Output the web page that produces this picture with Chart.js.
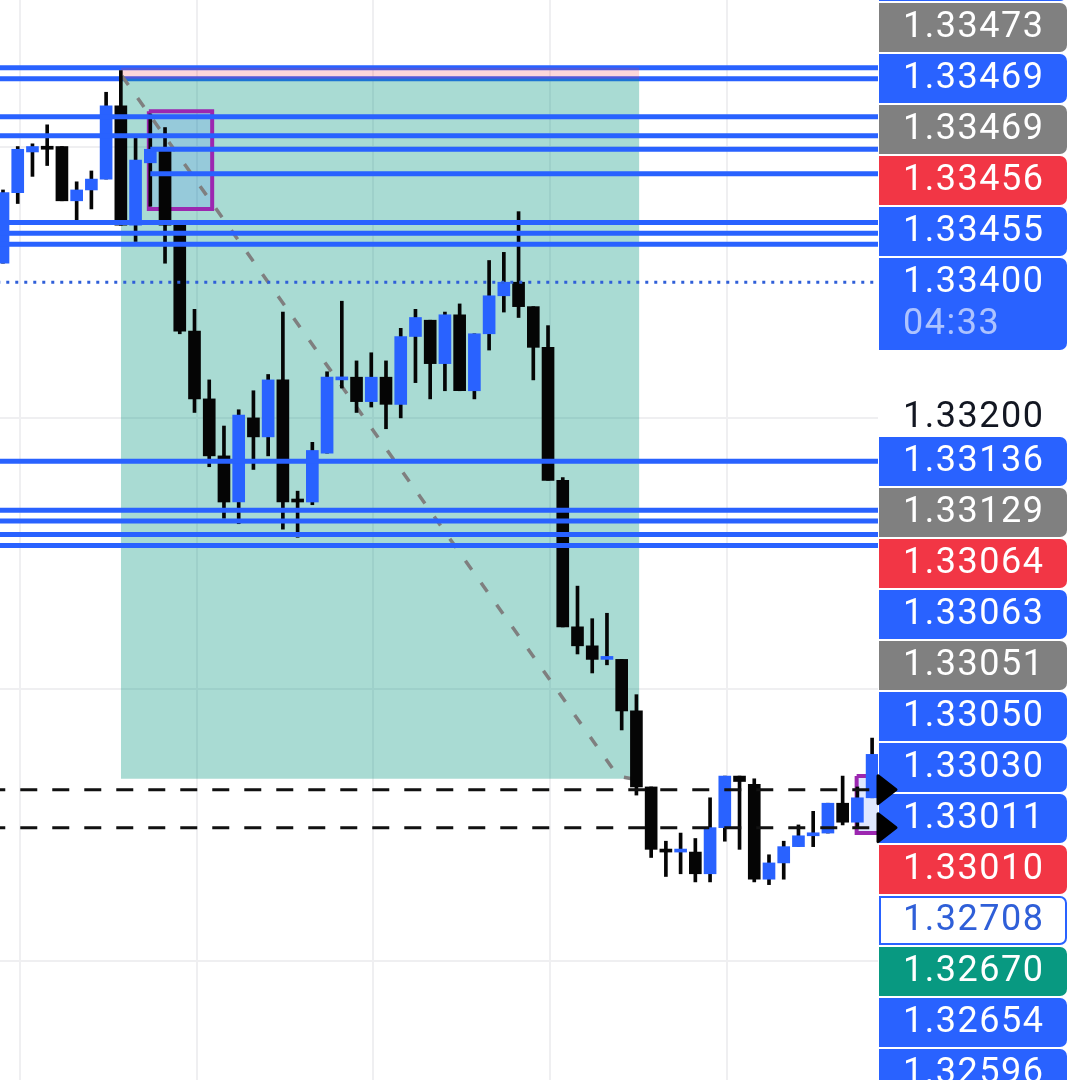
<!DOCTYPE html>
<html>
<head>
<meta charset="utf-8">
<script src="https://cdn.jsdelivr.net/npm/chart.js@4.4.0/dist/chart.umd.min.js"></script>
<style>
  html, body { margin: 0; padding: 0; background: #fff; }
  #wrap { width: 1080px; height: 1080px; position: relative; }
</style>
</head>
<body>
<div id="wrap"><canvas id="gbp"></canvas></div>
<script>
// one value per bar, left to right
const opens  = [1.33257,1.33283,1.33298,1.33300,1.33300,1.33280,1.33284,1.33288,1.33315,1.33271,
                1.33294,1.33299,1.33271,1.33232,1.33207,1.33186,1.33169,1.33200,1.33193,1.33214,
                1.33170,1.33169,1.33187,1.33214,1.33215,1.33206,1.33215,1.33205,1.33230,1.33236,
                1.33220,1.33238,1.33210,1.33231,1.33245,1.33250,1.33241,1.33226,1.33177,1.33123,
                1.33116,1.33111,1.33111,1.33092,1.33064,1.33041,1.33040,1.33040,1.33032,1.33049,
                1.33068,1.33065,1.33030,1.33036,1.33042,1.33046,1.33047,1.33058,1.33051,1.33060];
const highs  = [1.33284,1.33300,1.33301,1.33308,1.33300,1.33287,1.33291,1.33320,1.33328,1.33304,
                1.33312,1.33307,1.33271,1.33240,1.33214,1.33197,1.33203,1.33210,1.33216,1.33239,
                1.33173,1.33191,1.33217,1.33243,1.33221,1.33224,1.33221,1.33233,1.33240,1.33236,
                1.33239,1.33242,1.33231,1.33258,1.33261,1.33276,1.33241,1.33234,1.33178,1.33138,
                1.33126,1.33128,1.33111,1.33098,1.33064,1.33044,1.33047,1.33045,1.33060,1.33068,
                1.33068,1.33067,1.33039,1.33044,1.33050,1.33055,1.33058,1.33068,1.33064,1.33082];
const lows   = [1.33257,1.33279,1.33289,1.33293,1.33280,1.33273,1.33277,1.33288,1.33271,1.33265,
                1.33278,1.33257,1.33231,1.33202,1.33182,1.33163,1.33161,1.33181,1.33186,1.33159,
                1.33156,1.33168,1.33187,1.33211,1.33202,1.33204,1.33196,1.33200,1.33213,1.33207,
                1.33210,1.33210,1.33207,1.33225,1.33239,1.33237,1.33214,1.33177,1.33123,1.33113,
                1.33106,1.33109,1.33085,1.33061,1.33038,1.33031,1.33032,1.33029,1.33029,1.33044,
                1.33041,1.33029,1.33028,1.33030,1.33042,1.33042,1.33047,1.33050,1.33049,1.33060];
const closes = [1.33283,1.33299,1.33300,1.33299,1.33280,1.33284,1.33288,1.33315,1.33271,1.33295,
                1.33299,1.33271,1.33232,1.33207,1.33186,1.33169,1.33201,1.33193,1.33214,1.33169,
                1.33169,1.33188,1.33215,1.33215,1.33206,1.33215,1.33205,1.33230,1.33237,1.33220,
                1.33238,1.33210,1.33231,1.33245,1.33250,1.33241,1.33226,1.33177,1.33123,1.33116,
                1.33111,1.33112,1.33092,1.33064,1.33041,1.33040,1.33041,1.33032,1.33049,1.33068,
                1.33066,1.33030,1.33036,1.33042,1.33046,1.33047,1.33058,1.33051,1.33060,1.33076];

// horizontal levels drawn on the chart
const levels      = [1.33311, 1.33304, 1.33272, 1.33268, 1.33264, 1.33184, 1.33166, 1.33162, 1.33157, 1.33153];
const topLevels   = [1.33329, 1.33325];      // sit under the position box
const lateLevels  = [1.33299, 1.33290];      // start at bar 10
const lateStart   = 10;
const priceLine   = 1.33250;                 // dotted
const alertLevels = [1.33063, 1.33049];      // black dashed + arrows

// short position tool: bars 8 -> 43.2, stop / entry / target
const posBars   = [8.0, 43.2];
const posStop   = 1.33329;
const posEntry  = 1.33325;
const posTarget = 1.33067;
const trendBars   = [8.08, 41.75, 42.7];
const trendPrices = [1.33326, 1.33068, 1.33067];

// purple boxes: [fromBar, toBar, top, bottom]
const boxes = [[9.9, 14.2, 1.33313, 1.33277], [57.95, 61, 1.33068, 1.33047]];

// axis
const gridPrices = [1.333, 1.332, 1.331, 1.330];
const axisLabel  = 1.332;
const gridBars   = [1.15, 13.15, 25.15, 37.15, 49.15];

// price tags on the right, top to bottom
const tagTexts = ['', '1.33473', '1.33469', '1.33469', '1.33456', '1.33455', '1.33400',
                  '1.33136', '1.33129', '1.33064', '1.33063', '1.33051', '1.33050', '1.33030',
                  '1.33011', '1.33010', '1.32708', '1.32670', '1.32654', '1.32596'];
const tagKinds = ['blue', 'gray', 'blue', 'gray', 'red', 'blue', 'blue',
                  'blue', 'gray', 'red', 'blue', 'gray', 'blue', 'blue',
                  'blue', 'red', 'outline', 'green', 'blue', 'blue'];
const countdown = '04:33';

const BLUE = '#2962FF';
const BLACK = '#050505';
const tagColors = { blue: BLUE, gray: '#808080', red: '#F23645', green: '#089981', outline: '#ffffff' };

const bars = opens.map((_, i) => i);
const candleColor = c => (c.dataIndex === undefined || closes[c.dataIndex] >= opens[c.dataIndex]) ? BLUE : BLACK;

const hline = (y, order, from = -1, to = 61, extra = {}) => Object.assign({
  type: 'line',
  data: [{ x: from, y }, { x: to, y }],
  borderColor: BLUE, borderWidth: 5, pointRadius: 0, fill: false, order
}, extra);

const datasets = [];

// position box
datasets.push({
  type: 'line', data: [{ x: posBars[0], y: posEntry }, { x: posBars[1], y: posEntry }],
  borderWidth: 0, pointRadius: 0, fill: { value: posTarget },
  backgroundColor: 'rgba(8,153,129,0.35)', order: 20
});
datasets.push({
  type: 'line', data: [{ x: posBars[0], y: posStop }, { x: posBars[1], y: posStop }],
  borderWidth: 0, pointRadius: 0, fill: { value: posEntry },
  backgroundColor: 'rgba(242,54,69,0.2)', order: 20
});
topLevels.forEach(v => datasets.push(hline(v, 21)));

// purple boxes
boxes.forEach(b => {
  datasets.push({
    type: 'line', data: [{ x: b[0], y: b[2] }, { x: b[1], y: b[2] }],
    borderWidth: 0, pointRadius: 0, fill: { value: b[3] },
    backgroundColor: 'rgba(41,98,255,0.15)', order: 16
  });
  datasets.push({
    type: 'line',
    data: [{ x: b[0], y: b[2] }, { x: b[1], y: b[2] }, { x: b[1], y: b[3] }, { x: b[0], y: b[3] }, { x: b[0], y: b[2] }],
    borderColor: '#9C27B0', borderWidth: 4, pointRadius: 0, fill: false, order: 15
  });
});

// dashed path of the trade
datasets.push({
  type: 'line', data: trendBars.map((x, i) => ({ x, y: trendPrices[i] })),
  borderColor: '#7f7f7f', borderWidth: 3.5, borderDash: [11, 16], pointRadius: 0, fill: false, order: 14
});

// candles: black wicks, blue/black bodies
datasets.push({
  type: 'bar', data: bars.map(i => ({ x: i, y: [lows[i], highs[i]] })),
  backgroundColor: BLACK, barThickness: 3, grouped: false, order: 12
});
datasets.push({
  type: 'bar', data: bars.map(i => ({ x: i, y: [opens[i], closes[i]] })),
  backgroundColor: candleColor, barThickness: 12, minBarLength: 3, grouped: false, order: 11
});

// levels on top
levels.forEach(v => datasets.push(hline(v, 5)));
lateLevels.forEach(v => datasets.push(hline(v, 5, lateStart)));
datasets.push(hline(priceLine, 4, -1, 61, { borderColor: '#2F5FD8', borderWidth: 3, borderDash: [3, 6] }));
alertLevels.forEach(v => datasets.push(hline(v, 3, -1, 61, { borderColor: '#111', borderWidth: 3, borderDash: [17, 15] })));

const spacing = {
  id: 'spacing',
  beforeDraw(chart) { chart.ctx.letterSpacing = '1.5px'; }
};

const priceTags = {
  id: 'priceTags',
  afterDraw(chart) {
    const ctx = chart.ctx;
    const left = chart.chartArea.right + 1;
    const w = 188, h = 49, step = 51;
    ctx.save();
    ctx.letterSpacing = '1.5px';
    ctx.font = '36px Roboto';
    ctx.textBaseline = 'middle';
    ctx.textAlign = 'left';
    tagTexts.forEach((t, i) => {
      const top = i < 7 ? -48 + step * i : 437 + step * (i - 7);
      const tall = i === 6;
      const hh = tall ? 92 : h;
      const kind = tagKinds[i];
      ctx.beginPath();
      ctx.roundRect(left, top, w, hh, [0, 7, 7, 0]);
      ctx.fillStyle = tagColors[kind];
      ctx.fill();
      if (kind === 'outline') {
        ctx.beginPath();
        ctx.roundRect(left + 1, top + 1, w - 2, hh - 2, [0, 6, 6, 0]);
        ctx.strokeStyle = BLUE;
        ctx.lineWidth = 2;
        ctx.stroke();
      }
      ctx.fillStyle = kind === 'outline' ? '#2F5FD8' : '#ffffff';
      ctx.fillText(t, left + 24, top + 25);
      if (tall) {
        ctx.fillStyle = 'rgba(255,255,255,0.62)';
        ctx.fillText(countdown, left + 24, top + 67);
      }
    });
    // arrows for the alert lines
    ctx.fillStyle = '#000';
    ctx.strokeStyle = '#000';
    ctx.lineJoin = 'round';
    ctx.lineWidth = 3;
    alertLevels.forEach(v => {
      const y = chart.scales.y.getPixelForValue(v);
      ctx.beginPath();
      ctx.moveTo(left - 1, y - 14);
      ctx.lineTo(left + 17, y);
      ctx.lineTo(left - 1, y + 14);
      ctx.closePath();
      ctx.fill();
      ctx.stroke();
    });
    ctx.restore();
  }
};

Chart.defaults.font.family = 'Roboto';

new Chart(document.getElementById('gbp'), {
  type: 'bar',
  data: { datasets },
  options: {
    responsive: true,
    maintainAspectRatio: false,
    animation: false,
    layout: { padding: 0 },
    plugins: { legend: { display: false }, tooltip: { enabled: false } },
    scales: {
      x: {
        type: 'linear',
        min: -0.2037, max: 59.40,
        offset: false,
        grid: { color: '#efeff1', lineWidth: 2, drawTicks: false, offset: false },
        border: { display: false },
        ticks: { display: false },
        afterBuildTicks: s => { s.ticks = gridBars.map(v => ({ value: v })); },
        afterFit: s => { s.height = 0; s.paddingLeft = 0; s.paddingRight = 0; }
      },
      y: {
        position: 'right',
        min: 1.32956, max: 1.33354,
        beginAtZero: false,
        grid: { color: '#efeff1', lineWidth: 2, drawTicks: false },
        border: { display: false },
        afterBuildTicks: s => { s.ticks = gridPrices.map(v => ({ value: v })); },
        ticks: {
          padding: 25,
          color: '#131722',
          font: { size: 36 },
          callback: v => Math.abs(v - axisLabel) < 1e-7 ? v.toFixed(5) : ''
        },
        afterFit: s => { s.width = 202; s.paddingTop = 0; s.paddingBottom = 0; }
      }
    }
  },
  plugins: [spacing, priceTags]
});
</script>
</body>
</html>
